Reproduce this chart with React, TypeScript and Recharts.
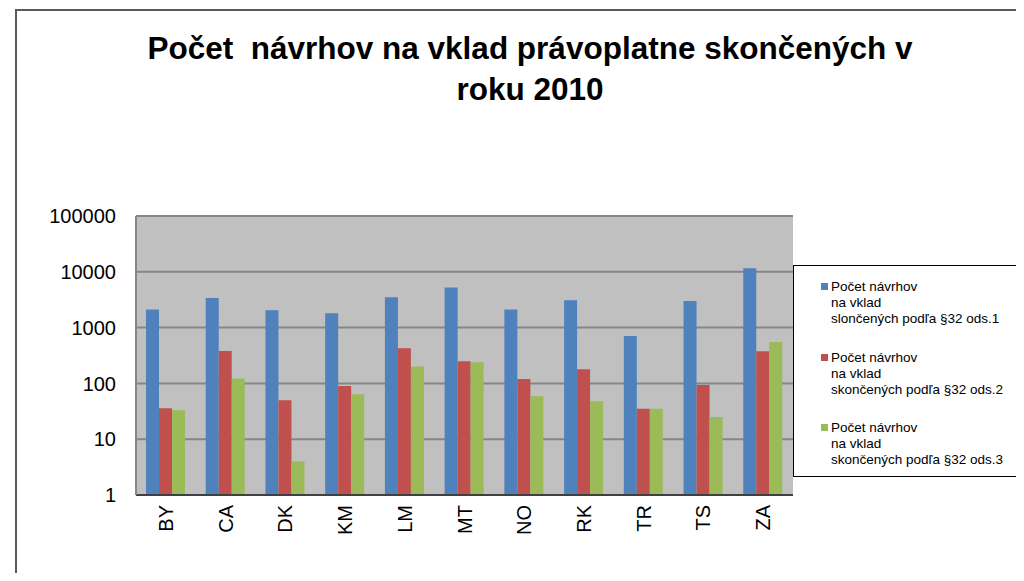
import { BarChart, Bar, XAxis, YAxis, CartesianGrid } from "recharts";

const categories = ["BY", "CA", "DK", "KM", "LM", "MT", "NO", "RK", "TR", "TS", "ZA"];
const ods1 = [2100, 3400, 2050, 1800, 3500, 5250, 2100, 3100, 710, 3000, 11600];
const ods2 = [36, 380, 50, 90, 425, 250, 120, 180, 35, 94, 375];
const ods3 = [33, 123, 4, 64, 200, 240, 59, 48, 35, 25, 550];
const yTicks = [1, 10, 100, 1000, 10000, 100000];

const series = [
  { key: "ods1", color: "#4F81BD", label: ["Počet návrhov", "na vklad", "slončených podľa §32 ods.1"] },
  { key: "ods2", color: "#C0504D", label: ["Počet návrhov", "na vklad", "skončených podľa §32 ods.2"] },
  { key: "ods3", color: "#9BBB59", label: ["Počet návrhov", "na vklad", "skončených podľa §32 ods.3"] },
];

const data = categories.map((name, i) => ({
  name,
  ods1: ods1[i],
  ods2: ods2[i],
  ods3: ods3[i],
}));

const font = '"Liberation Sans", Arial, sans-serif';

const XTick = (props: any) => {
  const { x, y, payload } = props;
  return (
    <text
      x={x}
      y={y}
      transform={`rotate(-90 ${x} ${y})`}
      textAnchor="end"
      dominantBaseline="central"
      fontSize={20}
      fontFamily={font}
      fill="#000"
    >
      {payload.value}
    </text>
  );
};

export default function App() {
  return (
    <div
      style={{
        position: "relative",
        width: 1024,
        height: 581,
        margin: -8,
        overflow: "hidden",
        background: "#fff",
        fontFamily: font,
      }}
    >
      <div
        style={{
          position: "absolute",
          left: 15,
          top: 9,
          width: 1100,
          height: 700,
          border: "2px solid #5a5a5a",
        }}
      />
      <div
        style={{
          position: "absolute",
          left: 0,
          top: 0,
          width: 1060,
          textAlign: "center",
          fontWeight: "bold",
          fontSize: 31.5,
          lineHeight: "41px",
          whiteSpace: "pre",
          paddingTop: 28,
        }}
      >
        {"Počet  návrhov na vklad právoplatne skončených v\nroku 2010"}
      </div>

      <div style={{ position: "absolute", left: 0, top: 0 }}>
        <BarChart
          width={1024}
          height={581}
          data={data}
          margin={{ top: 216, right: 231, bottom: 0, left: 0 }}
          barGap={0}
          barSize={13}
        >
          <CartesianGrid
            vertical={false}
            fill="#C0C0C0"
            fillOpacity={1}
            stroke="#868686"
            strokeWidth={2}
          />
          <XAxis
            dataKey="name"
            height={86}
            tickSize={0}
            tickMargin={10}
            tick={<XTick />}
            interval={0}
            axisLine={{ stroke: "#404040", strokeWidth: 2 }}
          />
          <YAxis
            scale="log"
            domain={[1, 100000]}
            ticks={yTicks}
            allowDataOverflow
            width={136}
            tickSize={0}
            tickMargin={20}
            tick={{ fontSize: 20, fill: "#000", fontFamily: font }}
            axisLine={{ stroke: "#868686", strokeWidth: 2 }}
            tickLine={false}
          />
          <YAxis
            yAxisId="right"
            orientation="right"
            width={0}
            tick={false}
            tickLine={false}
            axisLine={{ stroke: "#868686", strokeWidth: 2 }}
          />
          {series.map((s) => (
            <Bar
              key={s.key}
              dataKey={s.key}
              fill={s.color}
              isAnimationActive={false}
            />
          ))}
        </BarChart>
      </div>

      <div
        style={{
          position: "absolute",
          left: 793,
          top: 265,
          width: 260,
          height: 212,
          border: "1px solid #000",
          background: "#fff",
          boxSizing: "border-box",
          paddingTop: 13,
          display: "flex",
          flexDirection: "column",
          gap: 22.5,
        }}
      >
        {series.map((s) => (
          <div key={s.key} style={{ position: "relative", paddingLeft: 37, fontSize: 13.5, lineHeight: "16px", color: "#000" }}>
            <div
              style={{
                position: "absolute",
                left: 27,
                top: 4,
                width: 7,
                height: 7,
                background: s.color,
              }}
            />
            {s.label.map((line) => (
              <div key={line}>{line}</div>
            ))}
          </div>
        ))}
      </div>
    </div>
  );
}
